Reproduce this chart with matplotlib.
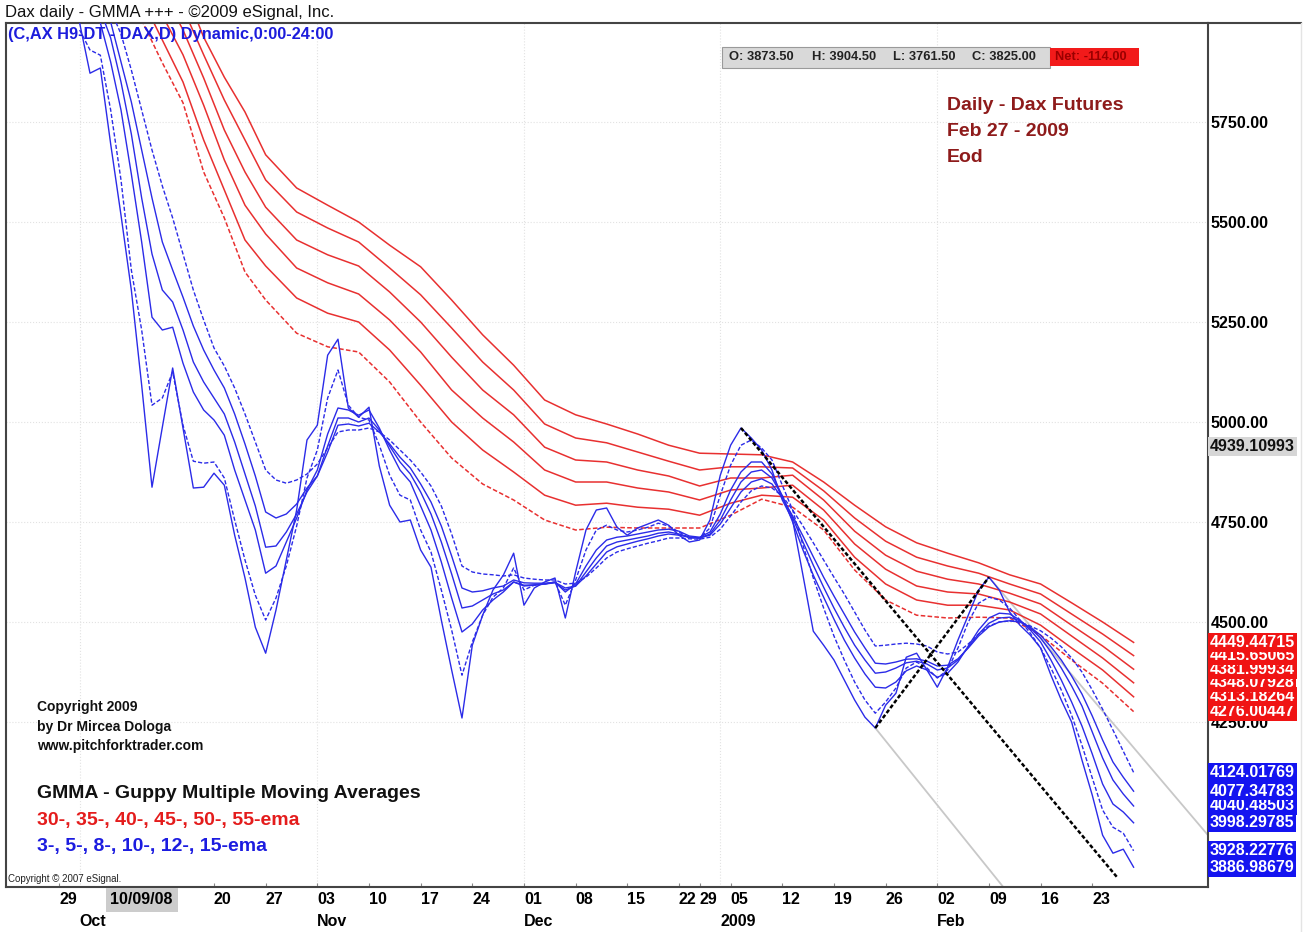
import matplotlib
matplotlib.use("Agg")
import matplotlib.pyplot as plt
import matplotlib.transforms as mtransforms
from matplotlib.patches import Rectangle
from matplotlib.lines import Line2D

plt.rcParams['font.family'] = ['Liberation Sans', 'DejaVu Sans']

W, H = 1312, 932
BLUE = '#2b2be8'
RED = '#e83030'

# x = trading day index, 0 = Mon 29 Sep 2008
# short emas: 3 and 5 start at day 2, 8/10/12/15 start at day 4
ema3 = [5997, 5872, 5885, 5695, 5517, 5330, 5092, 4837, 4987, 5135,
        4985, 4835, 4837, 4872, 4842, 4717, 4610, 4487, 4422, 4530,
        4655, 4780, 4955, 4992, 5167, 5207, 5035, 5012, 5037, 4890,
        4792, 4750, 4755, 4680, 4637, 4505, 4380, 4260, 4442, 4517,
        4580, 4617, 4672, 4542, 4585, 4600, 4610, 4510, 4625, 4730,
        4780, 4785, 4737, 4717, 4735, 4745, 4755, 4742, 4717, 4700,
        4705, 4755, 4867, 4942, 4985, 4960, 4930, 4880, 4805, 4755,
        4617, 4477, 4442, 4405, 4355, 4305, 4262, 4235, 4292, 4322,
        4412, 4422, 4380, 4337, 4387, 4455, 4517, 4580, 4612, 4580,
        4525, 4492, 4467, 4435, 4367, 4305, 4250, 4155, 4067, 3967,
        3922, 3932, 3887]
ema5 = [5980, 5930, 5917, 5780, 5605, 5380, 5230, 5042, 5060, 5125,
        4992, 4902, 4897, 4900, 4860, 4755, 4655, 4567, 4505, 4560,
        4640, 4740, 4860, 4930, 5060, 5130, 5042, 5012, 5005, 4942,
        4867, 4817, 4805, 4730, 4675, 4580, 4480, 4367, 4450, 4517,
        4562, 4585, 4635, 4580, 4592, 4595, 4600, 4542, 4605, 4680,
        4730, 4742, 4730, 4725, 4730, 4737, 4747, 4740, 4725, 4710,
        4710, 4735, 4817, 4892, 4942, 4955, 4935, 4905, 4842, 4780,
        4692, 4610, 4535, 4465, 4405, 4350, 4305, 4272, 4300, 4335,
        4385, 4400, 4385, 4360, 4380, 4435, 4500, 4547, 4562, 4555,
        4535, 4505, 4472, 4435, 4385, 4330, 4267, 4192, 4110, 4030,
        3987, 3972, 3928]
ema8 = [5998, 5900, 5780, 5620, 5450, 5262, 5230, 5237, 5147, 5075,
        5030, 5005, 4967, 4880, 4805, 4730, 4622, 4640, 4700, 4760,
        4830, 4880, 4970, 5035, 5030, 5017, 5030, 4985, 4930, 4880,
        4850, 4790, 4730, 4650, 4560, 4475, 4495, 4530, 4555, 4575,
        4600, 4590, 4592, 4595, 4600, 4575, 4595, 4640, 4680, 4705,
        4712, 4715, 4720, 4725, 4730, 4732, 4727, 4715, 4712, 4725,
        4770, 4830, 4875, 4900, 4900, 4870, 4815, 4750, 4680, 4617,
        4562, 4507, 4455, 4410, 4370, 4337, 4335, 4350, 4378, 4390,
        4380, 4362, 4372, 4400, 4440, 4480, 4510, 4522, 4520, 4505,
        4480, 4450, 4405, 4355, 4300, 4240, 4170, 4095, 4045, 4025,
        3998]
ema10 = [6030, 5960, 5850, 5720, 5560, 5420, 5330, 5300, 5230, 5150,
         5100, 5060, 5020, 4950, 4870, 4790, 4687, 4690, 4725, 4770,
         4825, 4865, 4940, 5010, 5010, 5000, 5010, 4980, 4940, 4900,
         4870, 4825, 4770, 4700, 4620, 4535, 4540, 4555, 4570, 4580,
         4600, 4592, 4593, 4595, 4598, 4580, 4590, 4625, 4660, 4690,
         4700, 4705, 4710, 4715, 4722, 4725, 4720, 4712, 4710, 4720,
         4755, 4805, 4850, 4875, 4880, 4860, 4815, 4760, 4700, 4642,
         4587, 4535, 4487, 4442, 4405, 4372, 4375, 4385, 4398, 4402,
         4395, 4380, 4385, 4405, 4437, 4470, 4497, 4510, 4512, 4503,
         4485, 4460, 4425, 4385, 4340, 4290, 4225, 4160, 4105, 4070,
         4040]
ema12 = [6080, 6000, 5900, 5800, 5680, 5560, 5450, 5380, 5312, 5240,
         5180, 5130, 5085, 5020, 4945, 4865, 4775, 4760, 4770, 4795,
         4835, 4865, 4925, 4992, 4995, 4990, 4997, 4975, 4945, 4912,
         4885, 4845, 4800, 4740, 4665, 4585, 4575, 4578, 4585, 4590,
         4605, 4598, 4597, 4597, 4599, 4585, 4590, 4615, 4645, 4675,
         4688, 4695, 4702, 4708, 4715, 4720, 4717, 4712, 4710, 4717,
         4745, 4785, 4825, 4850, 4858, 4845, 4810, 4765, 4715, 4663,
         4612, 4565, 4520, 4475, 4435, 4397, 4395, 4400, 4407, 4408,
         4402, 4390, 4392, 4408, 4435, 4465, 4488, 4500, 4503, 4500,
         4487, 4467, 4438, 4405, 4365, 4320, 4265, 4205, 4150, 4112,
         4077]
ema15 = [6120, 6030, 5970, 5880, 5780, 5680, 5590, 5510, 5420, 5330,
         5255, 5185, 5140, 5085, 5020, 4950, 4880, 4855, 4847, 4855,
         4870, 4895, 4935, 4975, 4980, 4980, 4985, 4975, 4955, 4930,
         4905, 4875, 4840, 4790, 4720, 4640, 4625, 4620, 4618, 4615,
         4618, 4610, 4607, 4605, 4605, 4595, 4597, 4612, 4635, 4660,
         4675, 4683, 4690, 4697, 4703, 4710, 4710, 4708, 4707, 4712,
         4732, 4765, 4800, 4828, 4840, 4835, 4815, 4780, 4740, 4698,
         4655, 4612, 4570, 4525, 4480, 4440, 4442, 4445, 4447, 4445,
         4440, 4425, 4420, 4425, 4445, 4470, 4490, 4500, 4503, 4500,
         4490, 4478, 4460, 4438, 4410, 4375, 4330, 4282, 4230, 4177,
         4124]

red_days = [8, 10, 12, 14, 16, 18, 20, 23, 26, 29, 32, 35, 38, 41, 44, 47, 50, 53,
            56, 59, 62, 65, 68, 71, 74, 77, 80, 83, 86, 89, 92, 95, 98, 101, 104]
ema30 = [6005, 5898, 5798, 5625, 5510, 5375, 5305, 5222, 5188, 5175, 5100, 5000,
         4910, 4845, 4805, 4755, 4730, 4737, 4735, 4735, 4735, 4767, 4807, 4787,
         4730, 4630, 4555, 4517, 4510, 4512, 4510, 4467, 4405, 4347, 4276]
ema35 = [6060, 5955, 5850, 5705, 5580, 5455, 5390, 5310, 5272, 5250, 5180, 5092,
         5000, 4930, 4875, 4817, 4792, 4797, 4787, 4782, 4767, 4797, 4817, 4812,
         4755, 4662, 4595, 4555, 4542, 4542, 4530, 4492, 4435, 4380, 4313]
ema40 = [6100, 6017, 5918, 5792, 5655, 5542, 5470, 5385, 5348, 5320, 5255, 5175,
         5080, 5010, 4950, 4880, 4850, 4850, 4835, 4825, 4805, 4830, 4835, 4842,
         4780, 4695, 4632, 4590, 4575, 4570, 4550, 4520, 4465, 4410, 4348]
ema45 = [6140, 6080, 5980, 5860, 5730, 5625, 5537, 5455, 5418, 5390, 5325, 5250,
         5162, 5080, 5018, 4937, 4905, 4900, 4880, 4865, 4840, 4860, 4860, 4867,
         4805, 4727, 4667, 4627, 4607, 4595, 4572, 4545, 4492, 4440, 4382]
ema50 = [6200, 6142, 6035, 5918, 5805, 5705, 5605, 5525, 5485, 5450, 5385, 5318,
         5235, 5150, 5080, 4995, 4960, 4948, 4925, 4902, 4880, 4888, 4888, 4885,
         4828, 4760, 4702, 4662, 4640, 4622, 4595, 4570, 4520, 4470, 4416]
ema55 = [6260, 6205, 6092, 5962, 5862, 5775, 5668, 5585, 5542, 5500, 5442, 5388,
         5305, 5218, 5142, 5055, 5018, 4995, 4970, 4942, 4922, 4920, 4918, 4900,
         4850, 4792, 4738, 4698, 4672, 4648, 4618, 4595, 4548, 4500, 4449]

# last values shown in the price scale
red_last = [4449.44715, 4415.65065, 4381.99934, 4348.07928, 4313.18264, 4276.00447]
blue_last = [4124.01769, 4077.34783, 4040.48503, 3998.29785, 3928.22776, 3886.98679]
cursor_value = 4939.10993

# pitchfork (Jan 6 high, Jan 23 low, Feb 9 high)
fork_median_days = [66, 102.4]
fork_median_vals = [4985, 3862]
fork_swing_days = [79, 90]
fork_swing_vals = [4235, 4612]
fork_lower_days = [79, 91.4]
fork_lower_vals = [4235, 3837]
fork_upper_days = [90, 111.2]
fork_upper_vals = [4612, 3967]

price_ticks = [4250, 4500, 4750, 5000, 5250, 5500, 5750]
tick_days = [0, 15, 20, 25, 30, 35, 40, 45, 50, 55, 60, 62, 65, 70, 75, 80, 85, 90, 95, 100]
tick_labels = ['29', '20', '27', '03', '10', '17', '24', '01', '08', '15', '22', '29',
               '05', '12', '19', '26', '02', '09', '16', '23']
month_days = [2, 25, 45, 64, 85]
month_labels = ['Oct', 'Nov', 'Dec', '2009', 'Feb']
cursor_day = 8
cursor_label = '10/09/08'


def fx(x):
    return x / W


def fy(y):
    return 1 - y / H


fig = plt.figure(figsize=(W / 100, H / 100), dpi=100)
ax = fig.add_axes([fx(6), fy(887), fx(1208) - fx(6), fy(23) - fy(887)])
ax.set_xlim(-5.13, 111.2)
ax.set_ylim(3837.5, 5997.5)

# faint dotted grid
for p in price_ticks:
    ax.axhline(p, color='#e2e2e2', lw=0.8, ls=':', zorder=0)
for d in month_days:
    ax.axvline(d, color='#e2e2e2', lw=0.8, ls=':', zorder=0)

# long term group
for vals, dashed in [(ema30, True), (ema35, False), (ema40, False),
                     (ema45, False), (ema50, False), (ema55, False)]:
    ax.plot(red_days, vals, color=RED, lw=1.1, zorder=2,
            dashes=(3, 1.5) if dashed else (None, None))

# short term group
for vals, start, dashed in [(ema3, 2, False), (ema5, 2, True), (ema8, 4, False),
                            (ema10, 4, False), (ema12, 4, False), (ema15, 4, True)]:
    days = list(range(start, start + len(vals)))
    ax.plot(days, vals, color=BLUE, lw=1.0, zorder=3,
            dashes=(3, 1.5) if dashed else (None, None))

# pitchfork
ax.plot(fork_lower_days, fork_lower_vals, color='#c8c8c8', lw=1.3, zorder=1)
ax.plot(fork_upper_days, fork_upper_vals, color='#c8c8c8', lw=1.3, zorder=1)
ax.plot(fork_median_days, fork_median_vals, color='black', lw=1.8, dashes=(1.6, 0.9), zorder=4)
ax.plot(fork_swing_days, fork_swing_vals, color='black', lw=1.8, dashes=(1.6, 0.9), zorder=4)

# axes frame
for side in ['left', 'right', 'top', 'bottom']:
    ax.spines[side].set_color('#444444')
    ax.spines[side].set_linewidth(1.5)
fig.add_artist(Line2D([fx(1208), fx(1301)], [fy(23), fy(23)], color='#444444', lw=1.5))
fig.add_artist(Line2D([fx(1301), fx(1301)], [fy(23), fy(932)], color='#e4e4e4', lw=1))

# price scale
ax.yaxis.tick_right()
ax.set_yticks(price_ticks)
ax.set_yticklabels(['%.2f' % p for p in price_ticks], fontsize=11.5, fontweight='bold')
ax.tick_params(axis='y', length=0, pad=2)

# date scale
ax.set_xticks(tick_days)
ax.set_xticklabels([])
ax.tick_params(axis='x', direction='in', length=3, color='#888888')
xbl = mtransforms.blended_transform_factory(ax.transData, ax.transAxes)
for d, lab in zip(tick_days, tick_labels):
    ax.text(d, -13 / 864, lab, transform=xbl, ha='left', va='center',
            fontsize=11.5, fontweight='bold', clip_on=False)
for d, lab in zip(month_days, month_labels):
    ax.text(d, -35 / 864, lab, transform=xbl, ha='left', va='center',
            fontsize=11.5, fontweight='bold', clip_on=False)
ax.text(cursor_day, -13 / 864, cursor_label, transform=xbl, ha='center', va='center',
        fontsize=11.5, fontweight='bold', clip_on=False,
        bbox=dict(boxstyle='square,pad=0.3', fc='#cccccc', ec='none'))

# last value boxes on the price scale
ybl = mtransforms.blended_transform_factory(ax.transAxes, ax.transData)
for v in red_last[::-1]:
    ax.text(1.0015, v, '%.5f' % v, transform=ybl, ha='left', va='center', color='white',
            fontsize=11.5, fontweight='bold', clip_on=False, zorder=6,
            bbox=dict(boxstyle='square,pad=0.12', fc='#f01414', ec='none'))
for v in blue_last[::-1]:
    ax.text(1.0015, v, '%.5f' % v, transform=ybl, ha='left', va='center', color='white',
            fontsize=11.5, fontweight='bold', clip_on=False, zorder=6,
            bbox=dict(boxstyle='square,pad=0.12', fc='#1414f0', ec='none'))
ax.text(1.0015, cursor_value, '%.5f' % cursor_value, transform=ybl, ha='left',
        va='center', color='#111111', fontsize=11.5, fontweight='bold', clip_on=False,
        zorder=6, bbox=dict(boxstyle='square,pad=0.12', fc='#d6d6d6', ec='none'))

# header texts
fig.text(fx(5), fy(13), 'Dax daily - GMMA +++ - \u00a92009 eSignal, Inc.', fontsize=12,
         va='center', ha='left', color='#111111')
fig.text(fx(8), fy(35), '(C,AX H9-DT - DAX,D) Dynamic,0:00-24:00', fontsize=11.8,
         fontweight='bold', va='center', ha='left', color='#1c1cdc')

# OHLC box
fig.add_artist(Rectangle((fx(722), fy(68)), fx(1050) - fx(722), fy(47) - fy(68),
                         fc='#d9d9d9', ec='#9a9a9a', lw=0.8))
fig.add_artist(Rectangle((fx(1050), fy(66)), fx(1139) - fx(1050), fy(48) - fy(66),
                         fc='#f21a1a', ec='none'))
for x, s in [(729, 'O: 3873.50'), (812, 'H: 3904.50'), (893, 'L: 3761.50'),
             (972, 'C: 3825.00')]:
    fig.text(fx(x), fy(57), s, fontsize=9.3, fontweight='bold', va='center', color='#222222')
fig.text(fx(1055), fy(57), 'Net: -114.00', fontsize=9.3, fontweight='bold', va='center',
         color='#9a0000')

for y, s in [(105, 'Daily - Dax Futures'), (131, 'Feb 27 - 2009'), (158, 'Eod')]:
    fig.text(fx(947), fy(y), s, fontsize=14, fontweight='bold', va='center', ha='left',
             color='#8e1b1b')

# notes bottom left
for y, s in [(707, 'Copyright 2009'), (727, 'by Dr Mircea Dologa'),
             (746, 'www.pitchforktrader.com')]:
    fig.text(fx(37), fy(y), s, fontsize=10, fontweight='bold', va='center', ha='left',
             color='#111111')
fig.text(fx(37), fy(793), 'GMMA - Guppy Multiple Moving Averages', fontsize=14,
         fontweight='bold', va='center', ha='left', color='#111111')
fig.text(fx(37), fy(821), '30-, 35-, 40-, 45-, 50-, 55-ema', fontsize=14,
         fontweight='bold', va='center', ha='left', color='#e41c1c')
fig.text(fx(37), fy(846), '3-, 5-, 8-, 10-, 12-, 15-ema', fontsize=14,
         fontweight='bold', va='center', ha='left', color='#1c1ce0')
fig.text(fx(8), fy(879), 'Copyright \u00a9 2007 eSignal.', fontsize=7, va='center',
         ha='left', color='#222222')

fig.savefig('out.png', dpi=100)
